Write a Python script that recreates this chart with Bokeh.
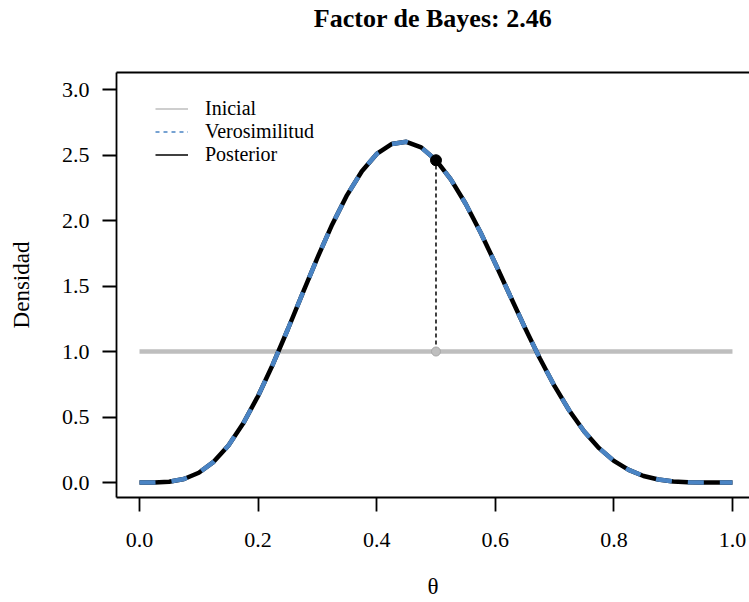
from bokeh.plotting import figure
from bokeh.models import (Range1d, FixedTicker, PrintfTickFormatter, LinearAxis,
                          Legend, LegendItem, Title)
from bokeh.embed import file_html
from bokeh.resources import INLINE

# ---- data ----
theta = [0.0, 0.025, 0.05, 0.075, 0.1, 0.125, 0.15, 0.175, 0.2, 0.225,
         0.25, 0.275, 0.3, 0.325, 0.35, 0.375, 0.4, 0.425, 0.45, 0.475,
         0.5, 0.525, 0.55, 0.575, 0.6, 0.625, 0.65, 0.675, 0.7, 0.725,
         0.75, 0.775, 0.8, 0.825, 0.85, 0.875, 0.9, 0.925, 0.95, 0.975, 1.0]
posterior = [0.0, 0.0004, 0.0061, 0.0270, 0.0744, 0.1578, 0.2830, 0.4516, 0.6606, 0.9028,
             1.1680, 1.4434, 1.7153, 1.9698, 2.1939, 2.3763, 2.5082, 2.5838, 2.6004, 2.5582,
             2.4609, 2.3146, 2.1276, 1.9098, 1.6722, 1.4258, 1.1813, 0.9484, 0.7351, 0.5475,
             0.3893, 0.2621, 0.1652, 0.0958, 0.0499, 0.0225, 0.0083, 0.0022, 0.0003, 0.0000, 0.0]
verosimilitud = [0.0, 0.0004, 0.0061, 0.0270, 0.0744, 0.1578, 0.2830, 0.4516, 0.6606, 0.9028,
                 1.1680, 1.4434, 1.7153, 1.9698, 2.1939, 2.3763, 2.5082, 2.5838, 2.6004, 2.5582,
                 2.4609, 2.3146, 2.1276, 1.9098, 1.6722, 1.4258, 1.1813, 0.9484, 0.7351, 0.5475,
                 0.3893, 0.2621, 0.1652, 0.0958, 0.0499, 0.0225, 0.0083, 0.0022, 0.0003, 0.0000, 0.0]
inicial_theta = [0.0, 1.0]
inicial = [1.0, 1.0]

bf_theta = [0.5]
bf_posterior = [2.46]
bf_inicial = [1.0]

x_ticks = [0.0, 0.2, 0.4, 0.6, 0.8, 1.0]
y_ticks = [0.0, 0.5, 1.0, 1.5, 2.0, 2.5, 3.0]
legend_labels = ["Inicial", "Verosimilitud", "Posterior"]
title_text = "Factor de Bayes: 2.46"

# ---- styles ----
FONT = "Liberation Serif"
GREY = "#BEBEBE"
BLUE = "#4A84C4"
NAN = float("nan")

p = figure(width=749, height=602, output_backend="svg", toolbar_location=None,
           x_range=Range1d(-0.0388, 1.0287), y_range=Range1d(-0.1145, 3.1298),
           min_border_left=116, min_border_right=0, min_border_top=72,
           min_border_bottom=105, x_axis_label="θ", y_axis_label="Densidad")
p.outline_line_color = None
p.xgrid.visible = False
p.ygrid.visible = False
p.background_fill_color = "white"
p.border_fill_color = "white"

for ax in (p.xaxis[0], p.yaxis[0]):
    ax.axis_line_width = 1.8
    ax.axis_line_color = "black"
    ax.major_tick_line_width = 1.8
    ax.major_tick_line_color = "black"
    ax.major_tick_out = 14
    ax.major_tick_in = 0
    ax.minor_tick_line_color = None
    ax.major_label_text_font = FONT
    ax.major_label_text_font_size = "22px"
    ax.major_label_text_color = "black"
    ax.axis_label_text_font = FONT
    ax.axis_label_text_font_size = "23px"
    ax.axis_label_text_font_style = "normal"
    ax.axis_label_text_color = "black"
    ax.formatter = PrintfTickFormatter(format="%.1f")

p.xaxis[0].ticker = FixedTicker(ticks=x_ticks)
p.yaxis[0].ticker = FixedTicker(ticks=y_ticks)
p.xaxis[0].major_label_standoff = 21
p.xaxis[0].axis_label_standoff = 24
p.yaxis[0].major_label_standoff = 13
p.yaxis[0].axis_label_standoff = 25

top_axis = LinearAxis(ticker=FixedTicker(ticks=[]), major_tick_out=0, major_tick_in=0,
                      major_label_standoff=0, major_label_text_font_size="0px",
                      minor_tick_line_color=None, axis_line_width=1.8,
                      axis_line_color="black")
p.add_layout(top_axis, "above")

# empty spacer between frame and title, so the title sits at the top of the page
spacer = Title(text=" ", text_font_size="34px", standoff=0)
p.add_layout(spacer, "above")

p.title.text = title_text
p.title.align = "center"
p.title.text_font = FONT
p.title.text_font_size = "26px"
p.title.text_font_style = "bold"
p.title.text_color = "black"
p.title.standoff = 0

# ---- curves ----
p.line(inicial_theta, inicial, line_color=GREY, line_width=4.5)
p.line(theta, posterior, line_color="black", line_width=4.5)
p.line(theta, verosimilitud, line_color=BLUE, line_width=4.5, line_dash="16 16")

# Savage-Dickey segment and points
p.segment(x0=bf_theta, y0=bf_inicial, x1=bf_theta, y1=bf_posterior,
          line_color="black", line_width=1.5, line_dash="4 3")
p.scatter(bf_theta, bf_inicial, size=9, fill_color=GREY, line_color="#A8A8A8", line_width=1)
p.scatter(bf_theta, bf_posterior, size=11, fill_color="black", line_color="black")

# ---- legend (thin lines, renderers carry no visible data) ----
r1 = p.line([NAN, NAN], [NAN, NAN], line_color=GREY, line_width=1.6)
r2 = p.line([NAN, NAN], [NAN, NAN], line_color=BLUE, line_width=1.6, line_dash="4 4")
r3 = p.line([NAN, NAN], [NAN, NAN], line_color="black", line_width=1.6)
legend = Legend(items=[LegendItem(label=legend_labels[0], renderers=[r1]),
                       LegendItem(label=legend_labels[1], renderers=[r2]),
                       LegendItem(label=legend_labels[2], renderers=[r3])],
                location=(39, 331), orientation="vertical",
                glyph_width=33, glyph_height=21, label_height=21, spacing=-3,
                label_standoff=17, padding=0, margin=0,
                border_line_color=None, background_fill_alpha=0,
                label_text_font=FONT, label_text_font_size="20px",
                label_text_color="black")
p.add_layout(legend)

open("out.html", "w").write(file_html(p, INLINE))
